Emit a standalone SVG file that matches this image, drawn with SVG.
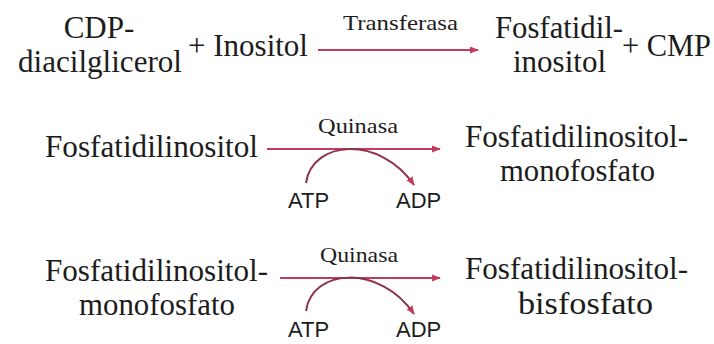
<svg xmlns="http://www.w3.org/2000/svg" width="714" height="344" viewBox="0 0 714 344">
  <style>
    .t { font-family: "Liberation Serif", "Times New Roman", serif; font-size: 31px; fill: #1c1c1c; }
    .e { font-family: "Liberation Serif", "Times New Roman", serif; font-size: 22px; fill: #1c1c1c; }
    .s { font-family: "Liberation Sans", Arial, sans-serif; font-size: 22px; fill: #1c1c1c; }
    .ln { fill: none; stroke: #c23a5c; stroke-width: 2; }
    .cv { fill: none; stroke: #8c3348; stroke-width: 2; }
  </style>
  <defs>
    <marker id="ah" viewBox="0 0 10 10" refX="9" refY="5" markerWidth="4.5" markerHeight="4.5" orient="auto" markerUnits="strokeWidth">
      <path d="M0,1 L10,5 L0,9 z" fill="#c23a5c"/>
    </marker>
  </defs>
  <rect width="714" height="344" fill="#ffffff"/>

  <g id="connectors">
    <line class="ln" x1="318" y1="50" x2="478" y2="50" marker-end="url(#ah)"/>
    <text class="e" x="343" y="30" textLength="115" lengthAdjust="spacingAndGlyphs">Transferasa</text>

    <line class="ln" x1="267" y1="149" x2="440" y2="149" marker-end="url(#ah)"/>
    <text class="e" x="318" y="133" textLength="80" lengthAdjust="spacingAndGlyphs">Quinasa</text>
    <path class="cv" d="M306,183 C312,140 380,135 414,185" marker-end="url(#ah)"/>

    <line class="ln" x1="280" y1="278" x2="440" y2="278" marker-end="url(#ah)"/>
    <text class="e" x="320" y="262" textLength="78" lengthAdjust="spacingAndGlyphs">Quinasa</text>
    <path class="cv" d="M306,311 C312,268 380,264 414,314" marker-end="url(#ah)"/>
  </g>

  <g id="cdp-diacilglicerol">
    <text class="t" x="99" y="38" text-anchor="middle">CDP-</text>
    <text class="t" x="18" y="72" textLength="164" lengthAdjust="spacingAndGlyphs">diacilglicerol</text>
  </g>
  <g id="inositol">
    <text class="t" x="188" y="56" textLength="120" lengthAdjust="spacingAndGlyphs">+ Inositol</text>
  </g>
  <g id="fosfatidilinositol-product">
    <text class="t" x="495" y="38" textLength="128" lengthAdjust="spacingAndGlyphs">Fosfatidil-</text>
    <text class="t" x="513" y="72" textLength="93" lengthAdjust="spacingAndGlyphs">inositol</text>
  </g>
  <g id="cmp">
    <text class="t" x="622" y="56" textLength="89" lengthAdjust="spacingAndGlyphs">+ CMP</text>
  </g>

  <g id="fosfatidilinositol">
    <text class="t" x="45" y="157" textLength="213" lengthAdjust="spacingAndGlyphs">Fosfatidilinositol</text>
  </g>
  <g id="pip-product">
    <text class="t" x="465" y="147" textLength="223" lengthAdjust="spacingAndGlyphs">Fosfatidilinositol-</text>
    <text class="t" x="500" y="181" textLength="155" lengthAdjust="spacingAndGlyphs">monofosfato</text>
  </g>
  <g id="atp-1"><text class="s" x="288" y="208">ATP</text></g>
  <g id="adp-1"><text class="s" x="396" y="208">ADP</text></g>

  <g id="pip-substrate">
    <text class="t" x="45" y="281" textLength="223" lengthAdjust="spacingAndGlyphs">Fosfatidilinositol-</text>
    <text class="t" x="79" y="315" textLength="156" lengthAdjust="spacingAndGlyphs">monofosfato</text>
  </g>
  <g id="pip2-product">
    <text class="t" x="465" y="279" textLength="223" lengthAdjust="spacingAndGlyphs">Fosfatidilinositol-</text>
    <text class="t" x="518" y="314" textLength="135" lengthAdjust="spacingAndGlyphs">bisfosfato</text>
  </g>
  <g id="atp-2"><text class="s" x="288" y="337">ATP</text></g>
  <g id="adp-2"><text class="s" x="396" y="337">ADP</text></g>
</svg>
